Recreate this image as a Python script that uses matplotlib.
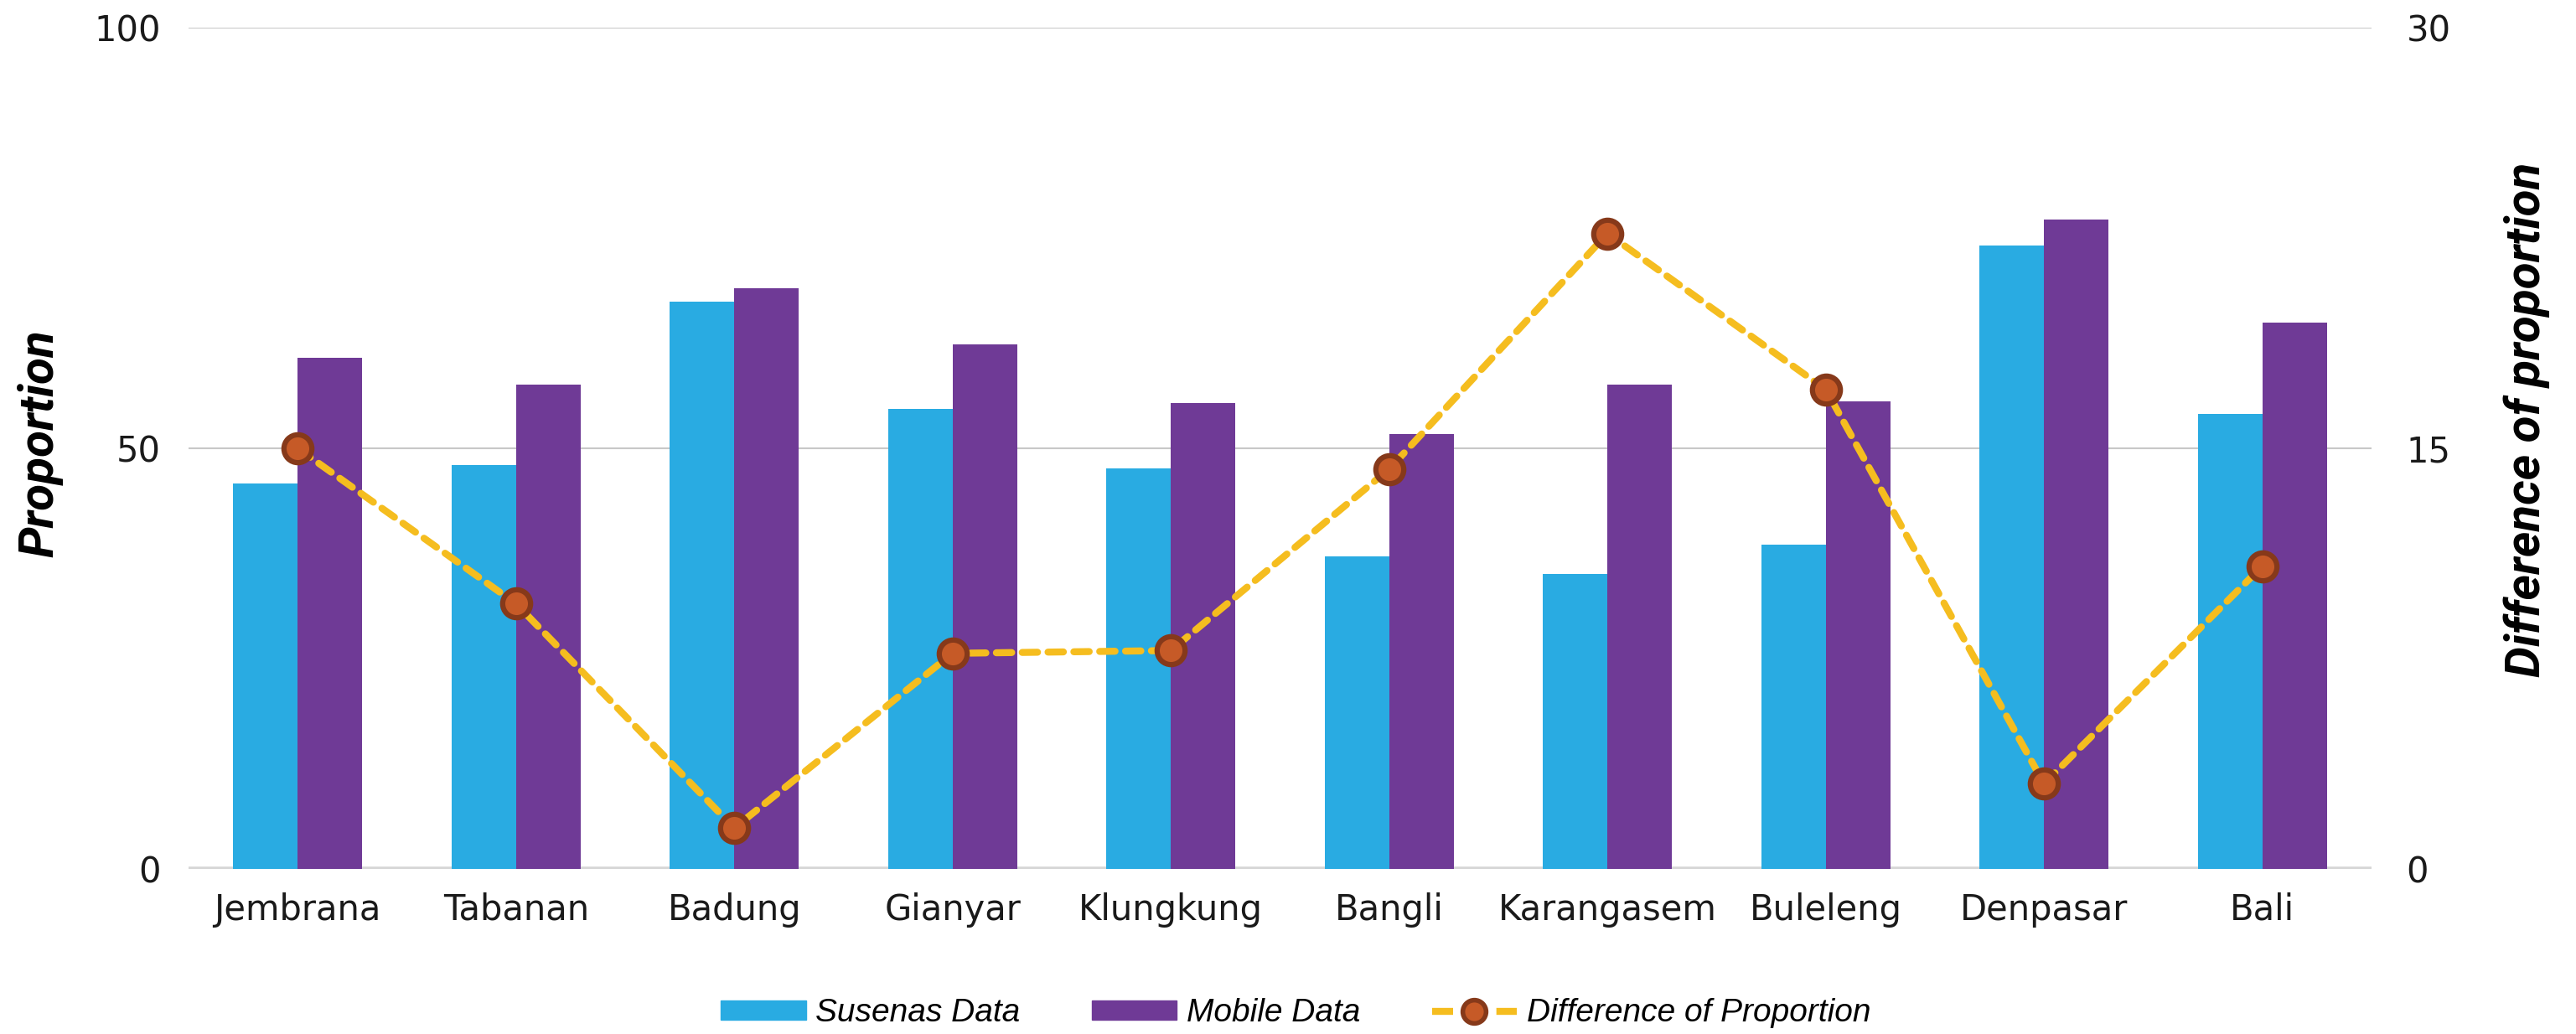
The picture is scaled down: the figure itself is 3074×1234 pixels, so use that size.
import numpy as np
import matplotlib.pyplot as plt
from matplotlib.lines import Line2D
from matplotlib.patches import Patch

# values
regions = ['Jembrana', 'Tabanan', 'Badung', 'Gianyar', 'Klungkung',
           'Bangli', 'Karangasem', 'Buleleng', 'Denpasar', 'Bali']
susenas = [45.8, 48.0, 67.4, 54.7, 47.6, 37.2, 35.1, 38.6, 74.1, 54.1]
mobile = [60.8, 57.6, 69.0, 62.4, 55.4, 51.7, 57.6, 55.6, 77.2, 64.9]
diff = [15.0, 9.46, 1.46, 7.69, 7.79, 14.26, 22.66, 17.1, 3.04, 10.8]

c_sus = '#29ABE2'
c_mob = '#6F3A96'
c_line = '#F5BD1F'
c_mk = '#C65A27'
c_mk_edge = '#86391A'

fig = plt.figure(figsize=(30.74, 12.34), dpi=100)
ax = fig.add_axes([0.0732, 0.1596, 0.8474, 0.8136])

x = np.arange(len(regions))
w = 0.296
ax.bar(x - w / 2, susenas, width=w, color=c_sus, zorder=2, label='Susenas Data')
ax.bar(x + w / 2, mobile, width=w, color=c_mob, zorder=2, label='Mobile Data')

ax.set_xlim(-0.5, len(regions) - 0.5)
ax.set_ylim(0, 100)
ax.set_yticks([0, 50, 100])
ax.yaxis.grid(True, color='#C8C8C8', linewidth=1.5, zorder=0)
ax.set_axisbelow(True)
for s in ax.spines.values():
    s.set_visible(False)
ax.axhline(0, color='#D6D6D6', linewidth=4, zorder=1)
ax.set_xticks(x)
ax.set_xticklabels(regions)
ax.tick_params(axis='both', length=0, labelsize=30, colors='#1a1a1a')
ax.tick_params(axis='x', pad=20)
ax.tick_params(axis='y', pad=24)

ax2 = ax.twinx()
ax2.plot(x, diff, color=c_line, linewidth=6, linestyle=(0, (2.2, 1.5)),
         marker='o', markersize=24, markerfacecolor=c_mk,
         markeredgecolor=c_mk_edge, markeredgewidth=4.5,
         dash_capstyle='round', zorder=3, label='Difference of Proportion')
ax2.set_ylim(0, 30)
ax2.set_yticks([0, 15, 30])
for s in ax2.spines.values():
    s.set_visible(False)
ax2.tick_params(axis='y', length=0, labelsize=30, colors='#1a1a1a', pad=30)

lab_font = dict(family=['Roboto', 'DejaVu Sans'],
                fontweight='bold', fontstyle='italic', fontsize=42)
ax.set_ylabel('Proportion', **lab_font)
ax.yaxis.set_label_coords(-0.0576, 0.506)
ax2.set_ylabel('Difference of proportion', **lab_font)
ax2.yaxis.set_label_coords(1.0603, 0.534)

handles = [Patch(color=c_sus), Patch(color=c_mob),
           Line2D([], [], color=c_line, linewidth=6, linestyle=(0, (3.0, 1.6)),
                  marker='o', markersize=20, markerfacecolor=c_mk,
                  markeredgecolor=c_mk_edge, markeredgewidth=4)]
labels = ['Susenas Data', 'Mobile Data', 'Difference of Proportion']
fig.legend(handles, labels, loc='center', bbox_to_anchor=(0.503, 0.02),
           ncol=3, frameon=False, handlelength=2.6, handleheight=0.5,
           handletextpad=0.3, columnspacing=2.2,
           prop=dict(family='Liberation Sans', style='italic', size=28))

fig.savefig('out.png', dpi=100)
